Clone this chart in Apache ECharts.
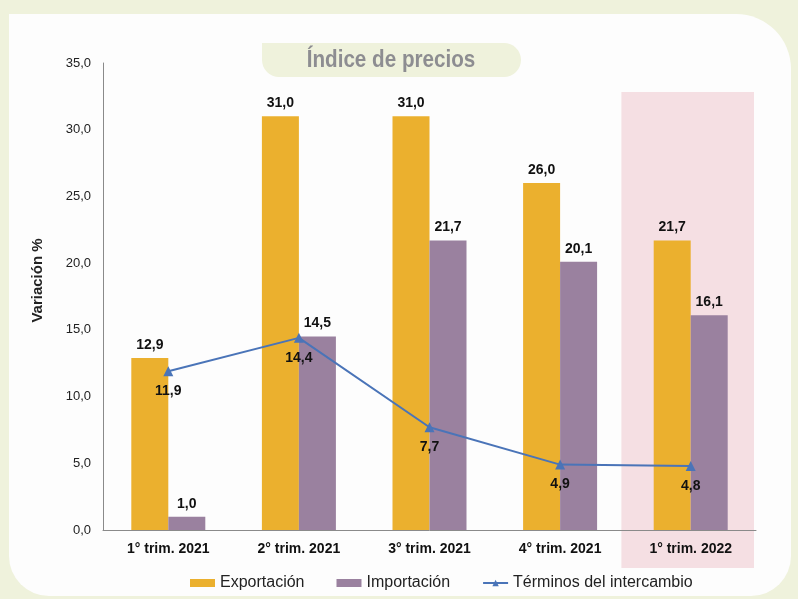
<!DOCTYPE html>
<html>
<head>
<meta charset="utf-8">
<title>Índice de precios</title>
<script src="https://cdn.jsdelivr.net/npm/echarts@6/dist/echarts.min.js"></script>
<style>
  html, body { margin: 0; height: 100%; background: #eff2dc; }
  #chart { width: 798px; height: 599px; }
</style>
</head>
<body>
<div id="chart"></div>
<script>
var categories = ['1° trim. 2021', '2° trim. 2021', '3° trim. 2021', '4° trim. 2021', '1° trim. 2022'];
var exportacion = [12.9, 31.0, 31.0, 26.0, 21.7];
var importacion = [1.0, 14.5, 21.7, 20.1, 16.1];
var terminos = [11.9, 14.4, 7.7, 4.9, 4.8];

var font = "'Liberation Sans', Arial, sans-serif";

function fmt(v) {
  return Number(v).toFixed(1).replace('.', ',');
}

var chart = echarts.init(document.getElementById('chart'));

var option = {
  backgroundColor: '#eff2dc',
  animation: false,
  textStyle: { fontFamily: font },
  grid: { left: 103, right: 42, top: 63, bottom: 69 },
  legend: {
    left: 185,
    bottom: 3,
    itemWidth: 25,
    itemHeight: 8,
    itemGap: 32,
    textStyle: { fontSize: 16, color: '#222', fontFamily: font },
    data: [
      { name: 'Exportación', icon: 'rect' },
      { name: 'Importación', icon: 'rect' },
      { name: 'Términos del intercambio' }
    ]
  },
  xAxis: {
    type: 'category',
    data: categories,
    axisLine: { lineStyle: { color: '#8a8a8a' } },
    axisTick: { show: false },
    axisLabel: { fontSize: 14, fontWeight: 'bold', color: '#111', margin: 12, fontFamily: font }
  },
  yAxis: {
    type: 'value',
    min: 0,
    max: 35,
    interval: 5,
    name: 'Variación %',
    nameLocation: 'middle',
    nameGap: 58,
    nameTextStyle: { fontSize: 15, fontWeight: 'bold', color: '#222', fontFamily: font, padding: [0, 0, 0, 32] },
    axisLine: { show: true, lineStyle: { color: '#8a8a8a' } },
    axisTick: { show: false },
    splitLine: { show: false },
    axisLabel: { fontSize: 13, color: '#222', margin: 12, formatter: fmt, fontFamily: font }
  },
  series: [
    {
      name: 'Exportación',
      type: 'bar',
      data: exportacion,
      barWidth: 37,
      barGap: '0%',
      itemStyle: { color: '#ebb02e' },
      label: { show: true, position: 'top', formatter: function (p) { return fmt(p.value); },
        fontSize: 14, fontWeight: 'bold', color: '#111', distance: 6, fontFamily: font }
    },
    {
      name: 'Importación',
      type: 'bar',
      data: importacion,
      barWidth: 37,
      barGap: '0%',
      itemStyle: { color: '#9a819f' },
      label: { show: true, position: 'top', formatter: function (p) { return fmt(p.value); },
        fontSize: 14, fontWeight: 'bold', color: '#111', distance: 6, fontFamily: font }
    },
    {
      name: 'Términos del intercambio',
      type: 'line',
      data: terminos,
      symbol: 'triangle',
      symbolSize: 10,
      lineStyle: { color: '#4a74b8', width: 2 },
      itemStyle: { color: '#4a74b8' },
      label: { show: true, position: 'bottom', formatter: function (p) { return fmt(p.value); },
        fontSize: 14, fontWeight: 'bold', color: '#111', distance: 8, fontFamily: font },
      z: 5
    }
  ]
};

chart.setOption(option);

// panel, title pill and highlight band behind the last quarter
var last = categories.length - 1;
var c0 = chart.convertToPixel({ xAxisIndex: 0 }, last);
var c1 = chart.convertToPixel({ xAxisIndex: 0 }, last - 1);
var band = c0 - c1;

chart.setOption({
  graphic: [
    {
      type: 'rect', z: -10, silent: true,
      shape: { x: 9, y: 14, width: 782, height: 582, r: [0, 55, 40, 40] },
      style: { fill: '#fdfdfd' }
    },
    {
      type: 'rect', z: -5, silent: true,
      shape: { x: c0 - band / 2 - 4, y: 92, width: band + 2, height: 476 },
      style: { fill: '#f5dfe3' }
    },
    {
      type: 'rect', z: -5, silent: true,
      shape: { x: 262, y: 43, width: 259, height: 34, r: [0, 17, 17, 17] },
      style: { fill: '#eff2dc' }
    },
    {
      type: 'text', z: 10, silent: true,
      x: 391, y: 60, scaleX: 0.86,
      style: {
        x: 0, y: 0, text: 'Índice de precios',
        align: 'center', verticalAlign: 'middle',
        fontSize: 24, fontWeight: 'bold', fill: '#8d8d91', fontFamily: font
      }
    }
  ]
});
</script>
</body>
</html>
